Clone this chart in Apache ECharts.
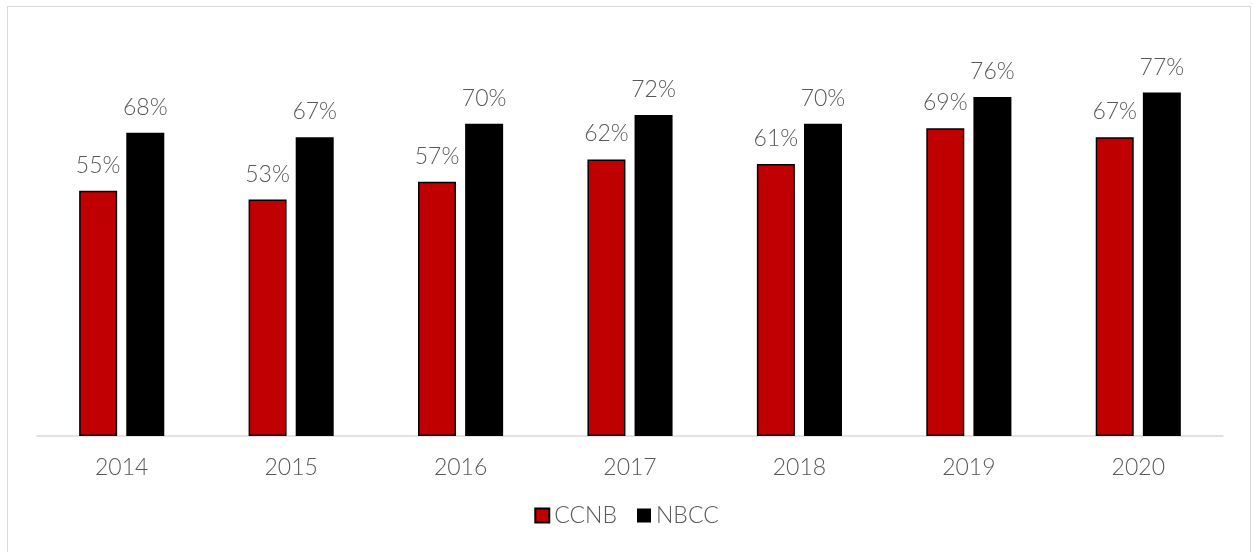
<!DOCTYPE html>
<html>
<head>
<meta charset="utf-8">
<script src="https://cdn.jsdelivr.net/npm/echarts@6/dist/echarts.min.js"></script>
<style>
html,body{margin:0;padding:0;background:#fff;}
#frame{position:absolute;left:7px;top:6px;width:1244px;height:560px;border:1px solid #d9d9d9;box-sizing:border-box;}
#chart{position:absolute;left:0;top:0;width:1253px;height:552px;}
</style>
</head>
<body>
<div id="frame"></div>
<div id="chart"></div>
<script>
var categories = ['2014','2015','2016','2017','2018','2019','2020'];
var ccnb = [55, 53, 57, 62, 61, 69, 67];
var nbcc = [68, 67, 70, 72, 70, 76, 77];

var textColor = '#595959';
var fontFamily = 'Lato, "Open Sans", sans-serif';
var chart = echarts.init(document.getElementById('chart'));
chart.setOption({
  animation: false,
  textStyle: {fontFamily: fontFamily},
  grid: {left: 37, right: 30, top: 34.6, bottom: 116, containLabel: false},
  legend: {
    data: ['CCNB', 'NBCC'],
    bottom: 20,
    left: 'center',
    itemWidth: 14,
    itemHeight: 14,
    itemGap: 20,
    icon: 'rect',
    textStyle: {color: textColor, fontSize: 23, fontWeight: 300, fontFamily: fontFamily, padding: [0,0,0,0]}
  },
  xAxis: {
    type: 'category',
    data: categories,
    axisLine: {show: true, lineStyle: {color: '#d9d9d9', width: 1.5}},
    axisTick: {show: false},
    axisLabel: {color: textColor, fontSize: 23, fontWeight: 300, margin: 20, fontFamily: fontFamily}
  },
  yAxis: {
    type: 'value',
    min: 0,
    max: 90,
    show: false,
    splitLine: {show: false}
  },
  series: [
    {
      name: 'CCNB',
      type: 'bar',
      data: ccnb,
      barWidth: 38,
      barGap: '24%',
      itemStyle: {color: '#C00000', borderColor: '#000', borderWidth: 1.5},
      label: {show: true, position: 'top', distance: 14, formatter: '{c}%', color: textColor, fontSize: 23, fontWeight: 300, fontFamily: fontFamily}
    },
    {
      name: 'NBCC',
      type: 'bar',
      data: nbcc,
      barWidth: 38,
      itemStyle: {color: '#000000'},
      label: {show: true, position: 'top', distance: 14, formatter: '{c}%', color: textColor, fontSize: 23, fontWeight: 300, fontFamily: fontFamily}
    }
  ]
});
</script>
</body>
</html>
